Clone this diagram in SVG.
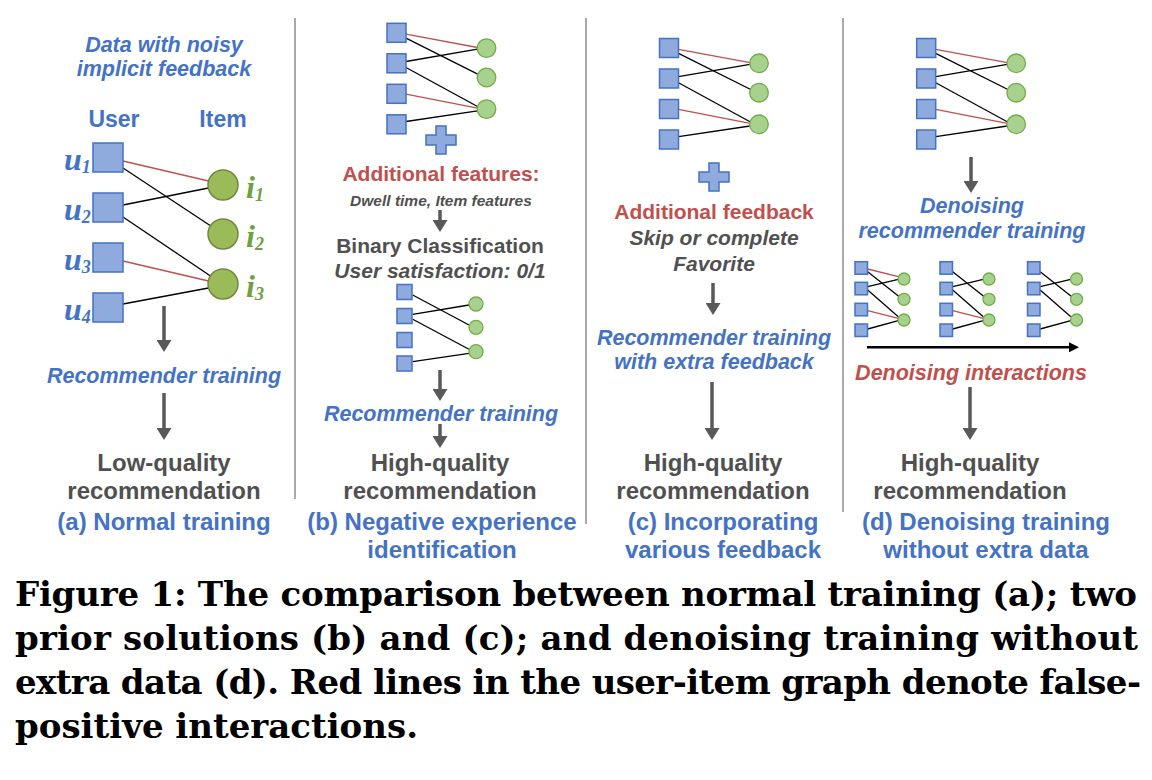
<svg xmlns="http://www.w3.org/2000/svg" xmlns:xlink="http://www.w3.org/1999/xlink" width="1152" height="780" viewBox="0 0 1152 780">
<style>
.sq{fill:#8FAADC;stroke:#4472C4;stroke-width:1.5}
.ci{fill:#A9D18E;stroke:#70AD47;stroke-width:1.3}
.ciA{fill:#9BBB59;stroke:#71893F;stroke-width:1.5}
.e{stroke:#000;stroke-width:1.3;fill:none}
.r{stroke:#C0504D;stroke-width:1.3;fill:none}
.plus{fill:#8FAADC;stroke:#4472C4;stroke-width:1.5}
.arr{stroke:#595959;stroke-width:3.5;fill:none;marker-end:url(#ah)}
.sep{stroke:#8C8C8C;stroke-width:1.5}
.bi{font-family:"Liberation Sans",Arial,sans-serif;font-style:italic;font-weight:bold;font-size:21.5px;fill:#4472C4;text-anchor:middle}
.ri{font-family:"Liberation Sans",Arial,sans-serif;font-style:italic;font-weight:bold;font-size:21.5px;fill:#C0504D;text-anchor:middle}
.rb{font-family:"Liberation Sans",Arial,sans-serif;font-weight:bold;font-size:21px;fill:#C0504D;text-anchor:middle}
.gi{font-family:"Liberation Sans",Arial,sans-serif;font-style:italic;font-weight:bold;font-size:21px;fill:#505050;text-anchor:middle}
.gb{font-family:"Liberation Sans",Arial,sans-serif;font-weight:bold;font-size:21px;fill:#505050;text-anchor:middle}
.big{font-family:"Liberation Sans",Arial,sans-serif;font-weight:bold;font-size:24px;fill:#505050;text-anchor:middle}
.cap{font-family:"Liberation Sans",Arial,sans-serif;font-weight:bold;font-size:24px;fill:#4472C4;text-anchor:middle}
.hd{font-family:"Liberation Sans",Arial,sans-serif;font-weight:bold;font-size:23px;fill:#4472C4;text-anchor:middle}
.ul{font-family:"Liberation Serif","Times New Roman",serif;font-style:italic;font-weight:bold;font-size:32px;fill:#4472C4}
.il{font-family:"Liberation Serif","Times New Roman",serif;font-style:italic;font-weight:bold;font-size:32px;fill:#70A040}
.fig{font-family:"DejaVu Serif","Liberation Serif",serif;font-weight:bold;font-size:34px;fill:#000}
</style>
<defs>
<marker id="ah" viewBox="0 0 12 15" refX="4" refY="7.5" markerWidth="12" markerHeight="15" markerUnits="userSpaceOnUse" orient="auto"><path d="M0,0 L12,7.5 L0,15 Z" fill="#595959"/></marker>
<marker id="ahk" viewBox="0 0 10 10" refX="3" refY="5" markerWidth="10" markerHeight="10" markerUnits="userSpaceOnUse" orient="auto"><path d="M0,0 L10,5 L0,10 Z" fill="#000"/></marker>
<path id="plusShape" class="plus" d="M-5,-14 H5 V-5 H15 V5 H5 V14 H-5 V5 H-15 V-5 H-5 Z"/>
<g id="bigGraph">
<line class="r" x1="19" y1="10.8" x2="90.5" y2="24.2"/>
<line class="e" x1="19" y1="14.8" x2="92.2" y2="51.5"/>
<line class="e" x1="19" y1="38.2" x2="90.5" y2="25.8"/>
<line class="e" x1="19" y1="44.2" x2="90.5" y2="83.2"/>
<line class="r" x1="19" y1="70.8" x2="90.5" y2="84.8"/>
<line class="e" x1="19" y1="98.2" x2="90.5" y2="87.5"/>
<rect class="sq" x="0" y="0" width="19" height="19"/>
<rect class="sq" x="0" y="30.5" width="19" height="19"/>
<rect class="sq" x="0" y="61" width="19" height="19"/>
<rect class="sq" x="0" y="91.5" width="19" height="19"/>
<circle class="ci" cx="99.5" cy="24.8" r="9.3"/>
<circle class="ci" cx="99.5" cy="54.2" r="9.3"/>
<circle class="ci" cx="99.5" cy="85.8" r="9.3"/>
</g>
<g id="miniNodes">
<rect class="sq" x="0" y="0" width="12.5" height="12.5"/>
<rect class="sq" x="0" y="20.6" width="12.5" height="12.5"/>
<rect class="sq" x="0" y="41.6" width="12.5" height="12.5"/>
<rect class="sq" x="0" y="62.3" width="12.5" height="12.5"/>
<circle class="ci" cx="49" cy="17.3" r="6"/>
<circle class="ci" cx="49" cy="37.6" r="6"/>
<circle class="ci" cx="49" cy="58.3" r="6"/>
</g>
</defs>
<rect width="1152" height="780" fill="#fff"/>

<g id="separators">
<line class="sep" x1="295" y1="18" x2="295" y2="499"/>
<line class="sep" x1="586" y1="18" x2="586" y2="524"/>
<line class="sep" x1="843" y1="18" x2="843" y2="512"/>
</g>

<!-- Panel (a) -->
<g id="panel-a">
<text class="bi" x="164" y="52">Data with noisy</text>
<text class="bi" x="164" y="76">implicit feedback</text>
<text class="hd" x="114" y="127">User</text>
<text class="hd" x="223" y="127">Item</text>
<g id="a-connectors">
<line class="r" x1="123" y1="161" x2="208.5" y2="181"/>
<line class="e" x1="123" y1="168" x2="210.5" y2="225.7"/>
<line class="e" x1="123" y1="205" x2="208.5" y2="188"/>
<line class="e" x1="123" y1="217" x2="210.5" y2="276"/>
<line class="r" x1="123" y1="261" x2="208.5" y2="281"/>
<line class="e" x1="123" y1="304" x2="208.5" y2="288"/>
</g>
<g id="a-u1"><rect class="sq" x="93" y="143" width="30" height="29"/><text class="ul" x="64" y="170">u<tspan font-size="18" dy="3">1</tspan></text></g>
<g id="a-u2"><rect class="sq" x="93" y="193" width="30" height="29"/><text class="ul" x="64" y="220">u<tspan font-size="18" dy="3">2</tspan></text></g>
<g id="a-u3"><rect class="sq" x="93" y="243" width="30" height="29"/><text class="ul" x="64" y="270">u<tspan font-size="18" dy="3">3</tspan></text></g>
<g id="a-u4"><rect class="sq" x="93" y="293" width="30" height="29"/><text class="ul" x="64" y="320">u<tspan font-size="18" dy="3">4</tspan></text></g>
<g id="a-i1"><circle class="ciA" cx="223" cy="185" r="15"/><text class="il" x="246" y="198">i<tspan font-size="18" dy="3">1</tspan></text></g>
<g id="a-i2"><circle class="ciA" cx="223" cy="234" r="15"/><text class="il" x="246" y="247">i<tspan font-size="18" dy="3">2</tspan></text></g>
<g id="a-i3"><circle class="ciA" cx="223" cy="284" r="15"/><text class="il" x="246" y="297">i<tspan font-size="18" dy="3">3</tspan></text></g>
<text class="bi" x="164" y="383">Recommender training</text>
<text class="big" x="164" y="471">Low-quality</text>
<text class="big" x="164" y="499">recommendation</text>
<text class="cap" x="164" y="530">(a) Normal training</text>
</g>

<!-- Panel (b) -->
<g id="panel-b">
<use xlink:href="#bigGraph" href="#bigGraph" transform="translate(387,23.3)"/>
<use xlink:href="#plusShape" href="#plusShape" transform="translate(441,140)"/>
<text class="rb" x="441" y="181">Additional features:</text>
<text class="gi" x="441" y="206" style="font-size:15.5px">Dwell time, Item features</text>
<text class="gb" x="440" y="253">Binary Classification</text>
<text class="gi" x="440" y="278">User satisfaction: 0/1</text>
<g id="b-small" transform="translate(397,284.5)">
<line class="e" x1="15.7" y1="10.5" x2="72" y2="40.5"/>
<line class="e" x1="15.7" y1="29.8" x2="72" y2="20.5"/>
<line class="e" x1="15.7" y1="34.8" x2="72" y2="64.8"/>
<line class="e" x1="15.7" y1="77.2" x2="72" y2="68.8"/>
<rect class="sq" x="0" y="0" width="15" height="15"/>
<rect class="sq" x="0" y="24" width="15" height="15"/>
<rect class="sq" x="0" y="48" width="15" height="15"/>
<rect class="sq" x="0" y="71.5" width="15" height="15"/>
<circle class="ci" cx="79" cy="19.5" r="7"/>
<circle class="ci" cx="79" cy="42.8" r="7"/>
<circle class="ci" cx="79" cy="67.2" r="7"/>
</g>
<text class="bi" x="441" y="421">Recommender training</text>
<text class="big" x="440" y="471">High-quality</text>
<text class="big" x="440" y="499">recommendation</text>
<text class="cap" x="442" y="530">(b) Negative experience</text>
<text class="cap" x="442" y="558">identification</text>
</g>

<!-- Panel (c) -->
<g id="panel-c">
<use xlink:href="#bigGraph" href="#bigGraph" transform="translate(659.5,38.5)"/>
<use xlink:href="#plusShape" href="#plusShape" transform="translate(714,177)"/>
<text class="rb" x="714" y="219">Additional feedback</text>
<text class="gi" x="714" y="245">Skip or complete</text>
<text class="gi" x="714" y="271">Favorite</text>
<text class="bi" x="714" y="345">Recommender training</text>
<text class="bi" x="714" y="369">with extra feedback</text>
<text class="big" x="713" y="471">High-quality</text>
<text class="big" x="713" y="499">recommendation</text>
<text class="cap" x="723" y="530">(c) Incorporating</text>
<text class="cap" x="723" y="558">various feedback</text>
</g>

<!-- Panel (d) -->
<g id="panel-d">
<use xlink:href="#bigGraph" href="#bigGraph" transform="translate(916.7,38.5)"/>
<text class="bi" x="972" y="213">Denoising</text>
<text class="bi" x="972" y="238">recommender training</text>
<g id="d-mini1" transform="translate(855,261.7)">
<line class="r" x1="12.7" y1="7.3" x2="43.3" y2="15"/>
<line class="e" x1="12.7" y1="10" x2="44.3" y2="35"/>
<line class="e" x1="12.7" y1="25" x2="43.3" y2="17.6"/>
<line class="e" x1="12.7" y1="28.3" x2="43.3" y2="55"/>
<line class="r" x1="12.7" y1="49" x2="43.3" y2="56.6"/>
<line class="e" x1="12.7" y1="67.3" x2="43.3" y2="59"/>
<use xlink:href="#miniNodes" href="#miniNodes"/>
</g>
<g id="d-mini2" transform="translate(940,261.7)">
<line class="e" x1="12.7" y1="10" x2="44.3" y2="35"/>
<line class="e" x1="12.7" y1="25" x2="43.3" y2="17.6"/>
<line class="e" x1="12.7" y1="28.3" x2="43.3" y2="55"/>
<line class="r" x1="12.7" y1="49" x2="43.3" y2="56.6"/>
<line class="e" x1="12.7" y1="67.3" x2="43.3" y2="59"/>
<use xlink:href="#miniNodes" href="#miniNodes"/>
</g>
<g id="d-mini3" transform="translate(1027.5,261.7)">
<line class="e" x1="12.7" y1="10" x2="44.3" y2="35"/>
<line class="e" x1="12.7" y1="25" x2="43.3" y2="17.6"/>
<line class="e" x1="12.7" y1="28.3" x2="43.3" y2="55"/>
<line class="e" x1="12.7" y1="67.3" x2="43.3" y2="59"/>
<use xlink:href="#miniNodes" href="#miniNodes"/>
</g>
<text class="ri" x="971" y="380">Denoising interactions</text>
<text class="big" x="970" y="471">High-quality</text>
<text class="big" x="970" y="499">recommendation</text>
<text class="cap" x="986" y="530">(d) Denoising training</text>
<text class="cap" x="986" y="558">without extra data</text>
</g>

<g id="connectors">
<line class="arr" x1="164" y1="306" x2="164" y2="344"/>
<line class="arr" x1="164" y1="393" x2="164" y2="432"/>
<line class="arr" x1="440" y1="210" x2="440" y2="224"/>
<line class="arr" x1="440" y1="370" x2="440" y2="393"/>
<line class="arr" x1="440" y1="424" x2="440" y2="440"/>
<line class="arr" x1="713" y1="283" x2="713" y2="307"/>
<line class="arr" x1="712" y1="382" x2="712" y2="432"/>
<line class="arr" x1="971" y1="157" x2="971" y2="185"/>
<line class="arr" x1="970" y1="387" x2="970" y2="432"/>
<line x1="867" y1="347.3" x2="1072" y2="347.3" stroke="#000" stroke-width="2.5" marker-end="url(#ahk)"/>
</g>

<g id="caption">
<text class="fig" x="15" y="606" textLength="1122" lengthAdjust="spacing">Figure 1: The comparison between normal training (a); two</text>
<text class="fig" x="15" y="650" textLength="1123" lengthAdjust="spacing">prior solutions (b) and (c); and denoising training without</text>
<text class="fig" x="15" y="694" textLength="1126" lengthAdjust="spacing">extra data (d). Red lines in the user-item graph denote false-</text>
<text class="fig" x="15" y="738">positive interactions.</text>
</g>
</svg>
